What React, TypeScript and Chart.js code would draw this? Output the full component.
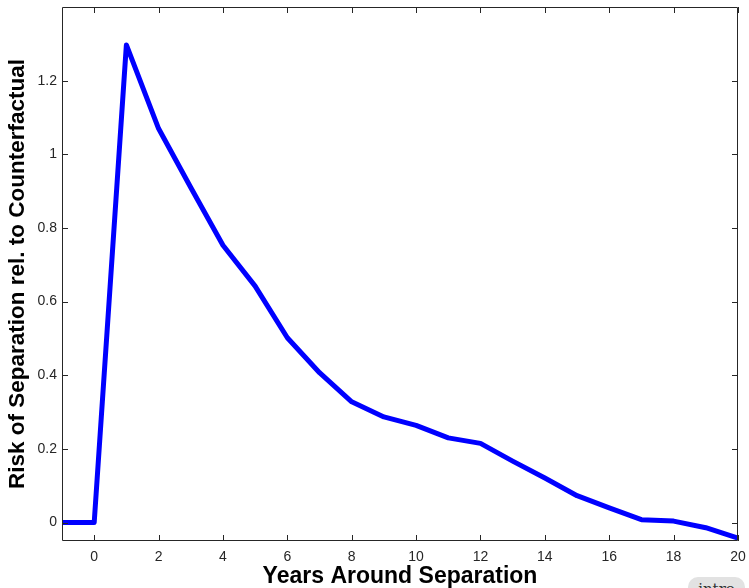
import { useEffect, useRef } from 'react'
import { Chart, registerables } from 'chart.js'

Chart.register(...registerables)

// years relative to separation
const years = [-1, 0, 1, 2, 3, 4, 5, 6, 7, 8, 9, 10, 11, 12, 13, 14, 15, 16, 17, 18, 19, 20]
// risk of separation relative to counterfactual
const risk = [
  0, 0, 1.297, 1.07, 0.91, 0.753, 0.642, 0.502, 0.407, 0.328, 0.287, 0.264, 0.23, 0.215,
  0.167, 0.121, 0.073, 0.04, 0.008, 0.004, -0.014, -0.042,
]
const xTicks = [0, 2, 4, 6, 8, 10, 12, 14, 16, 18, 20]
const yTicks = [0, 0.2, 0.4, 0.6, 0.8, 1, 1.2]

const FONT = '"Liberation Sans", Arial, sans-serif'

// MATLAB style box with inward ticks on all four sides
const boxPlugin = {
  id: 'matlabBox',
  afterDraw(chart: Chart) {
    const { ctx, chartArea: a, scales } = chart
    const len = 6
    ctx.save()
    ctx.strokeStyle = '#262626'
    ctx.lineWidth = 1
    ctx.beginPath()
    ctx.rect(a.left + 0.5, a.top + 0.5, a.right - a.left - 1, a.bottom - a.top - 1)
    xTicks.forEach((t) => {
      const px = Math.round(scales.x.getPixelForValue(t)) + 0.5
      ctx.moveTo(px, a.bottom)
      ctx.lineTo(px, a.bottom - len)
      ctx.moveTo(px, a.top)
      ctx.lineTo(px, a.top + len)
    })
    yTicks.forEach((t) => {
      const py = Math.round(scales.y.getPixelForValue(t)) + 0.5
      ctx.moveTo(a.left, py)
      ctx.lineTo(a.left + len, py)
      ctx.moveTo(a.right, py)
      ctx.lineTo(a.right - len, py)
    })
    ctx.stroke()
    ctx.restore()
  },
}

function RiskChart() {
  const chartRef = useRef<HTMLCanvasElement>(null)
  const chartInstance = useRef<Chart | null>(null)

  useEffect(() => {
    if (!chartRef.current) return
    if (chartInstance.current) chartInstance.current.destroy()
    const ctx = chartRef.current.getContext('2d')
    if (!ctx) return

    chartInstance.current = new Chart(ctx, {
      type: 'line',
      data: {
        datasets: [
          {
            data: years.map((y, i) => ({ x: y, y: risk[i] })),
            borderColor: '#0000ff',
            borderWidth: 5,
            borderJoinStyle: 'round',
            borderCapStyle: 'butt',
            pointRadius: 0,
            tension: 0,
            fill: false,
          },
        ],
      },
      options: {
        responsive: false,
        animation: false,
        layout: { padding: { left: 0, right: 11, top: 7, bottom: 0 } },
        plugins: { legend: { display: false }, tooltip: { enabled: false } },
        scales: {
          x: {
            type: 'linear',
            min: -1,
            max: 20,
            afterFit: (s: any) => {
              s.height = 47
              s.paddingLeft = 0
              s.paddingRight = 0
            },
            afterBuildTicks: (s: any) => {
              s.ticks = xTicks.map((v) => ({ value: v }))
            },
            grid: { display: false, drawTicks: false },
            border: { display: false },
            ticks: {
              padding: 8,
              color: '#262626',
              font: { family: FONT, size: 14 },
              maxRotation: 0,
              callback: (v: any) => String(v),
            },
            title: {
              display: true,
              text: 'Years Around Separation',
              color: '#000',
              font: { family: FONT, size: 23, weight: 'bold' },
              padding: { top: 0, bottom: -2 },
            },
          },
          y: {
            type: 'linear',
            min: -0.05,
            max: 1.4,
            afterFit: (s: any) => {
              s.width = 62
              s.paddingTop = 0
              s.paddingBottom = 0
            },
            afterBuildTicks: (s: any) => {
              s.ticks = yTicks.map((v) => ({ value: v }))
            },
            grid: { display: false, drawTicks: false },
            border: { display: false },
            ticks: {
              padding: 5,
              color: '#262626',
              font: { family: FONT, size: 14 },
              callback: (v: any) => String(Math.round(v * 10) / 10),
            },
            title: {
              display: true,
              text: 'Risk of Separation rel. to Counterfactual',
              color: '#000',
              font: { family: FONT, size: 22.5, weight: 'bold' },
              padding: { top: 4.5, bottom: 0 },
            },
          },
        },
      },
      plugins: [boxPlugin],
    })

    return () => {
      if (chartInstance.current) {
        chartInstance.current.destroy()
        chartInstance.current = null
      }
    }
  }, [])

  return <canvas ref={chartRef} width={749} height={588} style={{ display: 'block' }} />
}

export default function App() {
  return (
    <div
      style={{
        position: 'fixed',
        left: 0,
        top: 0,
        width: 749,
        height: 588,
        background: '#fff',
        overflow: 'hidden',
      }}
    >
      <RiskChart />
      <div
        style={{
          position: 'absolute',
          left: 688,
          top: 577,
          width: 57,
          height: 30,
          borderRadius: 10,
          background: '#e2e2e2',
          color: '#333',
          fontFamily: '"DejaVu Serif", serif',
          fontSize: 15,
          textAlign: 'center',
          paddingTop: 3,
          boxSizing: 'border-box',
        }}
      >
        intro
      </div>
    </div>
  )
}
